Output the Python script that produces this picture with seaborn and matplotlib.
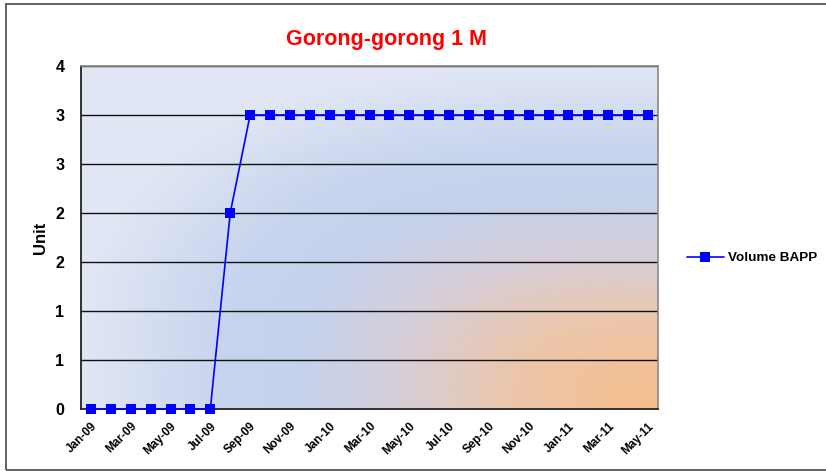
import numpy as np
import pandas as pd
import matplotlib
matplotlib.use("Agg")
import matplotlib.pyplot as plt
from matplotlib.patches import Rectangle
from matplotlib.lines import Line2D
import seaborn as sns

# ---- data ----
months = ["Jan-09", "Feb-09", "Mar-09", "Apr-09", "May-09", "Jun-09", "Jul-09",
          "Aug-09", "Sep-09", "Oct-09", "Nov-09", "Dec-09",
          "Jan-10", "Feb-10", "Mar-10", "Apr-10", "May-10", "Jun-10", "Jul-10",
          "Aug-10", "Sep-10", "Oct-10", "Nov-10", "Dec-10",
          "Jan-11", "Feb-11", "Mar-11", "Apr-11", "May-11"]
volume_bapp = [0, 0, 0, 0, 0, 0, 0,
               2, 3, 3, 3, 3,
               3, 3, 3, 3, 3, 3, 3,
               3, 3, 3, 3, 3,
               3, 3, 3, 3, 3]
y_ticks = [0, 0.5, 1.0, 1.5, 2.0, 2.5, 3.0, 3.5]
y_tick_labels = ["0", "1", "1", "2", "2", "3", "3", "4"]
title = "Gorong-gorong 1 M"
series_name = "Volume BAPP"
y_label = "Unit"

df = pd.DataFrame({"idx": np.arange(len(months)), "month": months, "value": volume_bapp})

sns.set_theme(style="white")
plt.rcParams["font.family"] = ["Liberation Sans", "DejaVu Sans"]
plt.rcParams["text.color"] = "black"
plt.rcParams["axes.labelcolor"] = "black"
plt.rcParams["xtick.color"] = "black"
plt.rcParams["ytick.color"] = "black"

W, H = 826, 471
fig = plt.figure(figsize=(W / 100, H / 100), dpi=100)
fig.patch.set_facecolor("white")

# outer chart border
fig.patches.append(Rectangle((6 / W, 1 - 470 / H), 1.2, (470 - 4) / H,
                             transform=fig.transFigure, fill=False,
                             edgecolor="#555555", linewidth=1.3, zorder=0))

L, R, T, B = 81, 658, 66, 409
ax = fig.add_axes([L / W, 1 - B / H, (R - L) / W, (B - T) / H])

# background gradient (from bottom-right corner)
gw, gh = R - L, B - T
xx, yy = np.meshgrid(np.arange(gw), np.arange(gh))
dx = (gw - xx) / gw
dy = (gh - yy) / gh
p = 3.0
d = np.clip((dx ** p + dy ** p) ** (1 / p), 0, 1)
stops = [0.0, 0.25, 0.45, 0.62, 0.75, 1.0]
cols = np.array([(247, 190, 138), (236, 198, 170), (214, 206, 216),
                 (197, 210, 236), (199, 212, 238), (224, 230, 244)]) / 255.0
img = np.stack([np.interp(d, stops, cols[:, c]) for c in range(3)], axis=-1)
ax.imshow(img, extent=[0, 1, 0, 1], transform=ax.transAxes, aspect="auto",
          zorder=-5, interpolation="bilinear")

sns.lineplot(data=df, x="idx", y="value", ax=ax, color="#0000ff", marker="s",
             markersize=7, markeredgewidth=0, linewidth=1.2, sort=False,
             label=series_name, legend=False, zorder=5, clip_on=False)

ax.set_xlim(-0.5, len(months) - 0.5)
ax.set_ylim(0, 3.5)
ax.set_yticks(y_ticks)
ax.set_yticklabels(y_tick_labels, fontsize=11.5, fontweight="bold")
ax.set_xticks(df["idx"][::2])
ax.set_xticklabels(df["month"][::2], rotation=45, ha="right",
                   rotation_mode="anchor", fontsize=8.5, fontweight="bold")
ax.tick_params(axis="y", length=0, pad=12)
ax.tick_params(axis="x", length=0, pad=8)
for yv in y_ticks[1:]:
    ax.axhline(yv, color="#111111", linewidth=1.0, zorder=1)
ax.set_xlabel("")
ax.set_ylabel(y_label, fontsize=12, fontweight="bold")
ax.yaxis.set_label_coords(-0.057, 0.5)
ax.grid(False)
for s in ["top", "right"]:
    ax.spines[s].set_color("#888888")
    ax.spines[s].set_linewidth(1.2)
for s in ["left", "bottom"]:
    ax.spines[s].set_color("#222222")
    ax.spines[s].set_linewidth(1.3)

fig.text(386 / W, 1 - 40 / H, title, color="#ff0000", fontsize=15.5,
         fontweight="bold", ha="center", va="center")

handle = Line2D([], [], color="#0000ff", marker="s", markersize=7,
                markeredgewidth=0, linewidth=1.2)
fig.legend([handle], [series_name], loc="center left",
           bbox_to_anchor=(675 / W, 1 - 258 / H), frameon=False,
           prop={"weight": "bold", "size": 9.7}, handlelength=2.7,
           handletextpad=0.37)

fig.savefig("out.png", dpi=100)
